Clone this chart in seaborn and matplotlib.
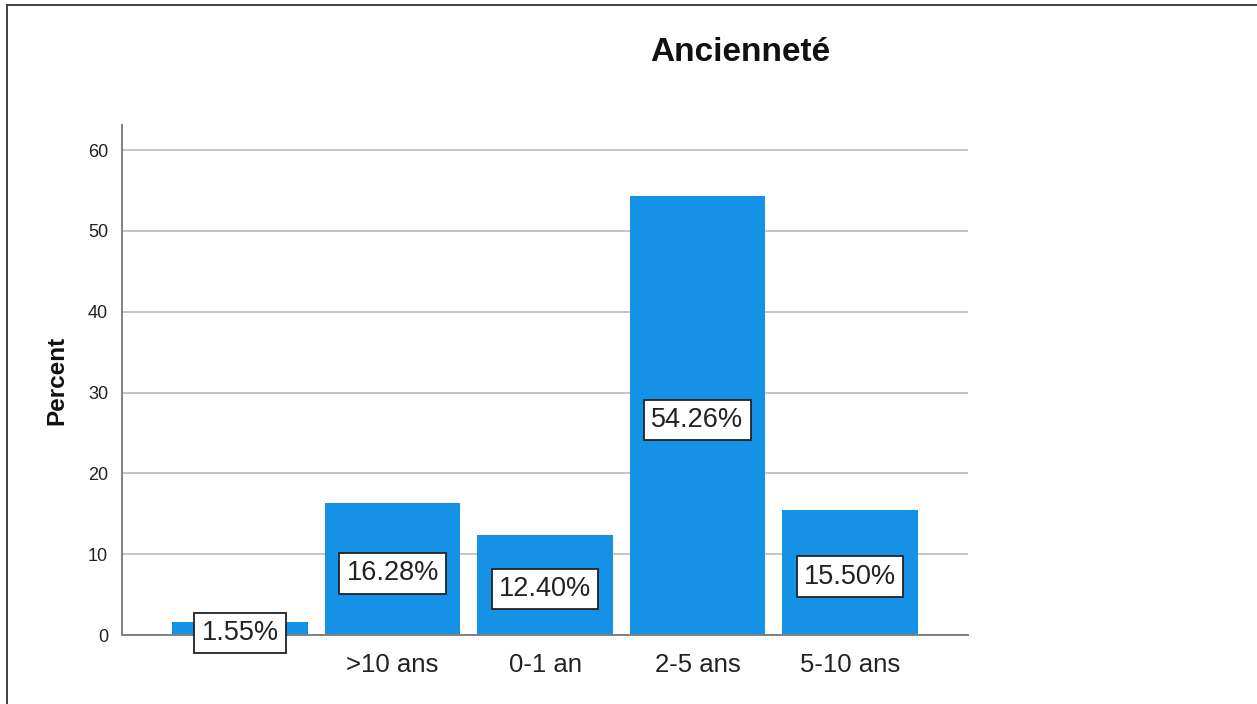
import matplotlib
matplotlib.use("Agg")
import matplotlib.pyplot as plt
import seaborn as sns
import pandas as pd
from matplotlib.lines import Line2D

categories = ["", ">10 ans", "0-1 an", "2-5 ans", "5-10 ans"]
percents = [1.55, 16.28, 12.40, 54.26, 15.50]
yticks = [0, 10, 20, 30, 40, 50, 60]

sns.set_theme(style="white")
plt.rcParams["font.family"] = ["Liberation Sans", "DejaVu Sans"]

df = pd.DataFrame({"Anciennete": categories, "Percent": percents})

fig = plt.figure(figsize=(12.57, 7.04), dpi=100)
ax = fig.add_axes([0.0971, 0.098, 0.673, 0.7244])

sns.barplot(data=df, x="Anciennete", y="Percent", order=categories,
            color="#1591E6", saturation=1, width=0.89, ax=ax,
            edgecolor="none", linewidth=0)

ax.set_xlim(-0.775, 4.775)
ax.set_ylim(0, 63.1)
ax.set_yticks(yticks)
ax.set_yticklabels([str(t) for t in yticks], fontsize=13, color="#222222")
ax.set_xticks(range(len(categories)))
ax.set_xticklabels(categories, fontsize=18.5, color="#222222")
ax.tick_params(axis="both", length=0)
ax.tick_params(axis="x", pad=13)
ax.tick_params(axis="y", pad=10)

ax.yaxis.grid(True, color="#c4c4c4", linewidth=1.4)
ax.set_axisbelow(True)
for side in ("top", "right"):
    ax.spines[side].set_visible(False)
for side in ("left", "bottom"):
    ax.spines[side].set_color("#808080")
    ax.spines[side].set_linewidth(1.4)

ax.set_xlabel("")
ax.set_ylabel("Percent", fontsize=17.5, fontweight="bold", color="#111111", labelpad=14)

for i, v in enumerate(percents):
    ax.annotate(f"{v:.2f}%", xy=(i, v / 2), xytext=(0, -3), textcoords="offset points",
                ha="center", va="center", fontsize=19.5, color="#222222",
                bbox=dict(boxstyle="square,pad=0.27", facecolor="white",
                          edgecolor="#222222", linewidth=1.3))

fig.text(0.589, 0.925, "Ancienneté", ha="center", va="center",
         fontsize=24, fontweight="bold", color="#111111")

# frame lines along the left and top edges
fig.add_artist(Line2D([0.0056, 0.0056], [0, 0.993], transform=fig.transFigure,
                      color="#333333", linewidth=1.3))
fig.add_artist(Line2D([0.0056, 1.0], [0.993, 0.993], transform=fig.transFigure,
                      color="#333333", linewidth=1.3))

fig.savefig("out.png", dpi=100)
